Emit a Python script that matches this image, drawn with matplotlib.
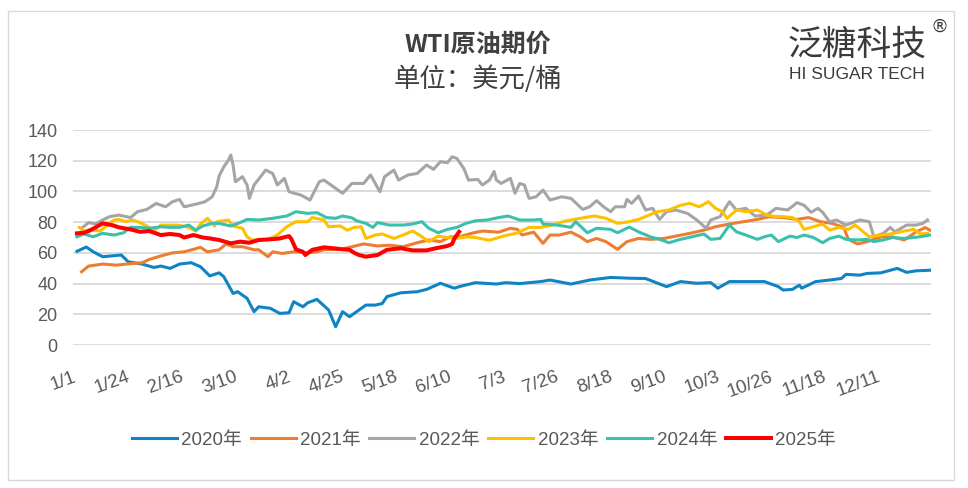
import matplotlib.pyplot as plt
from matplotlib.patches import Rectangle
from matplotlib.transforms import ScaledTranslation

# day of year (0 = 1/1) and price
days_2020 = [0, 4, 7, 11, 19, 22, 28, 33, 36, 40, 44, 49, 53, 57, 61, 63, 67, 69, 73, 76, 78, 83, 87, 91,
             93, 97, 99, 103, 108, 111, 114, 117, 120, 124, 128, 131, 133, 139, 146, 150, 156, 160, 162,
             164, 171, 180, 184, 190, 199, 203, 212, 220, 229, 237, 244, 253, 259, 266, 272, 275, 280,
             289, 295, 301, 303, 307, 310, 311, 317, 323, 328, 330, 336, 339, 345, 352, 356, 360, 366]
px_2020 = [61, 63.8, 60.7, 57.5, 58.6, 54.2, 52.7, 50.5, 51.4, 49.9, 52.7, 53.6, 51, 45, 47, 44.5, 33.6,
           34.7, 30.4, 21.7, 24.9, 23.9, 20.6, 21, 28.2, 24.9, 27.5, 29.7, 22.8, 11.9, 21.7, 18.4, 21.7,
           26, 26, 27, 31.5, 34, 34.7, 36.2, 40.2, 38, 37, 38, 40.6, 39.7, 40.6, 40, 41.3, 42.3, 39.7,
           42.3, 44, 43.5, 43.3, 38, 41.3, 40.2, 40.6, 37, 41.3, 41.3, 41.3, 38, 35.8, 36.2, 39, 37,
           41.3, 42.3, 43.3, 46, 45.5, 46.6, 47, 49.9, 47.3, 48.3, 48.7]

days_2021 = [2, 5, 11, 17, 23, 28, 31, 36, 41, 46, 50, 53, 56, 61, 64, 67, 71, 76, 78, 82, 84, 88, 93,
             99, 103, 106, 113, 117, 123, 129, 134, 140, 146, 151, 156, 160, 164, 170, 174, 181, 186,
             189, 191, 196, 200, 203, 207, 212, 216, 219, 223, 227, 232, 236, 241, 246, 252, 257, 263,
             269, 274, 280, 286, 292, 297, 303, 309, 314, 319, 324, 329, 331, 335, 339, 345, 350, 355,
             360, 364, 366]
px_2021 = [47.7, 51.4, 52.7, 52, 53, 53.6, 55.7, 58, 60, 60.7, 62.3, 63.6, 60.7, 62, 65.8, 64, 64, 62,
           62, 57.5, 60.7, 59.6, 60.7, 60, 60.7, 62, 62.3, 63.6, 65.8, 64.5, 65, 64, 66.6, 68.4, 67.3,
           70.4, 70.4, 73, 74.2, 73.5, 76, 75.3, 71.6, 73.5, 66.2, 71.6, 71.6, 73.5, 70.4, 67.3, 69.4,
           67.3, 62.3, 67.3, 69.4, 68.8, 69.4, 70.9, 72.7, 74.8, 77, 78.8, 80.3, 81.8, 83.5, 83, 81.8,
           83, 80.3, 79.2, 76.6, 68.8, 65.8, 67.3, 70.4, 70.4, 68.4, 73.5, 76.5, 74.8]

days_2022 = [2, 5, 8, 11, 14, 18, 23, 26, 30, 34, 38, 41, 44, 46, 51, 55, 58, 60, 61, 63, 65, 66, 67,
             68, 71, 73, 74, 76, 79, 81, 84, 86, 89, 91, 96, 100, 104, 106, 110, 114, 118, 123, 126,
             130, 132, 136, 138, 142, 146, 150, 153, 156, 159, 161, 163, 166, 168, 172, 174, 177, 179,
             180, 182, 186, 188, 190, 192, 194, 197, 200, 203, 208, 212, 217, 220, 223, 226, 229, 231,
             235, 236, 238, 241, 244, 247, 250, 253, 257, 262, 266, 270, 272, 276, 280, 283, 287, 291,
             296, 300, 305, 309, 312, 315, 318, 320, 323, 326, 330, 336, 340, 342, 346, 349, 351, 356,
             360, 363, 365]
px_2022 = [76, 79.7, 78.8, 81.4, 83.6, 84.6, 83, 86.8, 88.3, 92.2, 90, 93.3, 94.8, 90, 91.7, 93.3, 96.5,
           103, 110, 116, 120.4, 123.7, 117.2, 106.3, 109.6, 104.2, 95.5, 104.2, 110, 113.9, 111.7,
           104.2, 108.5, 99.8, 97.7, 94.4, 106.3, 107.4, 103.1, 98.8, 105.2, 105.2, 110.7, 99.8, 109.6,
           113.9, 107.4, 110.7, 111.7, 117.2, 114.4, 119.4, 118.7, 122.6, 121.5, 115, 107.4, 107.8,
           104.2, 107.4, 113, 107.4, 105.2, 108.5, 98.8, 105.2, 104.2, 95.5, 96.5, 100.9, 94.4, 96.5,
           95.5, 88.3, 90, 94, 90, 86.8, 90, 90, 94.8, 92.2, 97, 87.9, 89, 81.8, 86.8, 87.9, 85.7, 81.4,
           76, 81.4, 83.6, 93.3, 87.9, 89, 84, 84.6, 89, 87.9, 92.7, 91, 86.4, 89, 86.4, 80.3, 81.4,
           78.1, 81.4, 80.3, 70.5, 72.7, 76.6, 73.7, 78.1, 78.1, 79.2, 81.4]

days_2023 = [1, 3, 5, 10, 13, 16, 18, 21, 24, 27, 30, 33, 36, 38, 43, 47, 51, 53, 56, 59, 60, 65, 67,
             71, 73, 75, 78, 82, 86, 90, 94, 99, 101, 106, 108, 113, 116, 119, 122, 124, 128, 131, 136,
             140, 144, 147, 151, 155, 159, 163, 167, 171, 177, 183, 189, 194, 199, 204, 210, 216, 222,
             227, 232, 237, 241, 243, 249, 254, 259, 263, 267, 271, 274, 277, 279, 283, 287, 292, 296,
             300, 303, 307, 310, 312, 316, 320, 323, 327, 331, 334, 337, 340, 345, 349, 355, 359, 362,
             365]
px_2023 = [76.6, 74.2, 75, 74.2, 78.1, 81.4, 81.8, 80.3, 81.4, 79.7, 77.5, 74.2, 78.1, 78.1, 78.1, 77,
           74.2, 78.8, 82.5, 77.5, 80.3, 81.4, 77.5, 76, 70.5, 68.4, 68.4, 68.8, 71.6, 77, 80.3, 80.3,
           83, 81.4, 77, 77.5, 74.8, 76.6, 77, 69.4, 71.6, 72.3, 69.4, 71.6, 74.2, 71.6, 67.3, 70.9, 70,
           69.4, 70.4, 70, 68.2, 70.9, 73, 76.6, 76.6, 78.1, 80.9, 82.5, 84, 82.5, 79.2, 80.3, 81.8, 83,
           86.8, 87.9, 91, 92.2, 90, 93.3, 89, 86.8, 82.5, 87.9, 86.8, 87.9, 84.6, 83.6, 83.6, 83, 80.3,
           75.3, 77, 78.8, 74.8, 76.6, 75.3, 78.1, 74.2, 70.5, 71.6, 72.3, 74.2, 75.3, 72.3, 72.7]

days_2024 = [0, 3, 7, 11, 16, 20, 23, 27, 31, 36, 40, 44, 48, 51, 54, 58, 61, 66, 70, 73, 78, 84, 90,
             94, 99, 103, 107, 111, 114, 118, 120, 124, 127, 129, 134, 140, 144, 148, 151, 155, 159,
             163, 167, 171, 176, 181, 185, 190, 196, 199, 200, 206, 212, 214, 219, 223, 229, 232, 237,
             241, 246, 250, 254, 259, 264, 269, 272, 276, 280, 283, 287, 292, 295, 298, 301, 303, 306,
             309, 312, 316, 320, 323, 327, 330, 335, 339, 342, 346, 350, 355, 359, 362, 366]
px_2024 = [70.5, 72.3, 70.5, 72.7, 71.6, 73.1, 76.6, 76.6, 76, 77, 76.6, 76.6, 78.1, 74.8, 77.5, 79.2,
           79.2, 77.5, 79.7, 81.8, 81.4, 82.5, 84, 86.8, 85.7, 86.2, 83, 82.5, 84, 82.8, 80.9, 79.2,
           76.6, 79.7, 78.1, 78.1, 78.8, 80.3, 76, 73.1, 75.3, 76.6, 79.2, 80.9, 81.4, 83, 84, 81.4,
           81.4, 81.8, 78.8, 78.1, 76.6, 80.3, 73.1, 76, 75.3, 73.1, 76.8, 73.7, 70.5, 68.8, 66.6, 68.8,
           70.5, 72.3, 68.8, 69.4, 78.1, 73.7, 71.6, 68.8, 70.5, 71.6, 67.3, 68.8, 70.9, 70, 71.6, 70,
           66.6, 69.4, 70.9, 68.8, 68.4, 68.8, 67.3, 68.4, 70, 69.4, 70, 70.5, 71.6]

days_2025 = [0, 3, 5, 8, 11, 15, 18, 23, 27, 31, 36, 40, 44, 46, 50, 54, 57, 61, 66, 70, 74, 78, 83,
             87, 91, 92, 94, 97, 98, 101, 106, 110, 114, 117, 119, 121, 124, 129, 133, 139, 144, 150,
             154, 159, 161, 162, 164]
px_2025 = [72.7, 73.1, 74.2, 76.6, 79.2, 78.1, 76.6, 75.3, 73.7, 74.2, 71.6, 72.3, 71.6, 70, 71.6, 70,
           69.4, 68.4, 66.2, 67.3, 66.6, 68.4, 68.8, 69.4, 70.9, 69, 62.3, 60.7, 58.6, 62, 63.6, 63,
           62.3, 62, 60, 58.6, 57.5, 58.6, 62, 63, 61.6, 61.6, 63, 64.5, 65.8, 69.4, 73.7]

tick_days = [0, 23, 46, 69, 92, 115, 138, 161, 184, 207, 230, 253, 276, 299, 322, 345]
tick_labels = ["1/1", "1/24", "2/16", "3/10", "4/2", "4/25", "5/18", "6/10", "7/3", "7/26",
               "8/18", "9/10", "10/3", "10/26", "11/18", "12/11"]

series = [
    ("2020年", days_2020, px_2020, "#0E84C5", 2.2),
    ("2021年", days_2021, px_2021, "#ED7D31", 2.2),
    ("2022年", days_2022, px_2022, "#A5A5A5", 2.2),
    ("2023年", days_2023, px_2023, "#FFC000", 2.2),
    ("2024年", days_2024, px_2024, "#3CC0AE", 2.2),
    ("2025年", days_2025, px_2025, "#FF0000", 2.9),
]

plt.rcParams['font.family'] = ['Liberation Sans', 'Noto Sans CJK SC']

fig = plt.figure(figsize=(9.68, 4.88), dpi=100)
ax = fig.add_axes([0.0754, 0.2930, 0.8864, 0.4406])

for name, d, v, c, lw in series:
    ax.plot(d, v, color=c, lw=lw, label=name, solid_joinstyle="round")

ax.set_xlim(-1.7, 366.5)
ax.set_ylim(0, 140)
ax.set_yticks(range(0, 141, 20))
ax.grid(axis="y", color="#D9D9D9", lw=1.3)
ax.set_axisbelow(True)
for s in ax.spines.values():
    s.set_visible(False)

ax.tick_params(axis="y", length=0, pad=11, labelsize=13, labelcolor="#595959")
ax.tick_params(axis="x", length=0, pad=17, labelsize=13.5, labelcolor="#595959")
ax.set_xticks(tick_days)
ax.set_xticklabels(tick_labels, rotation=20, ha="right", va="top", rotation_mode="anchor")
shift = ScaledTranslation(-4 / 100, 0, fig.dpi_scale_trans)
for lab in ax.get_xticklabels():
    lab.set_transform(lab.get_transform() + shift)

fig.legend(loc="center", bbox_to_anchor=(0.5, 0.098), ncol=6, frameon=False,
           handlelength=2.4, handletextpad=0.25, columnspacing=0.45,
           prop={"family": ["Liberation Sans", "Noto Sans CJK SC"], "size": 13.5},
           labelcolor="#595959")

fig.text(0.494, 0.908, "WTI原油期价", ha="center", va="center", fontsize=18, fontweight="bold",
         color="#404040", family=["Noto Sans CJK SC"])
fig.text(0.494, 0.838, "单位：美元/桶", ha="center", va="center", fontsize=19,
         color="#404040", family=["Noto Sans CJK SC"])

fig.text(0.885, 0.906, "泛糖科技", ha="center", va="center", fontsize=25, color="#3A3A3A",
         family=["Noto Sans CJK SC"])
fig.text(0.885, 0.848, "HI SUGAR TECH", ha="center", va="center", fontsize=12.5, color="#3A3A3A",
         family=["Liberation Sans"])
fig.text(0.971, 0.945, "®", ha="center", va="center", fontsize=13, color="#3A3A3A",
         family=["DejaVu Sans"])

fig.patches.append(Rectangle((0.0083, 0.0164), 0.9772, 0.9606, transform=fig.transFigure,
                             fill=False, edgecolor="#D9D9D9", lw=1))

fig.savefig("out.png", dpi=100)
